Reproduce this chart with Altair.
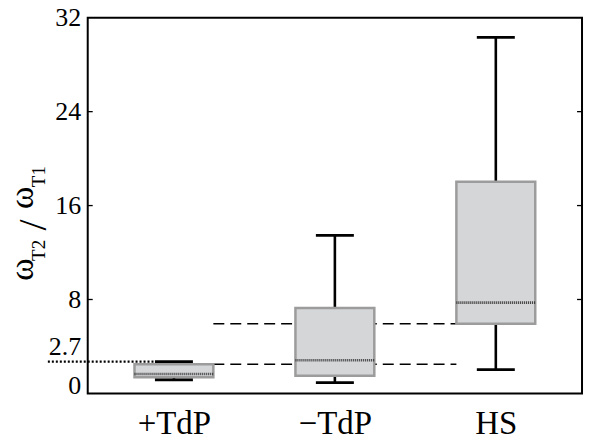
import altair as alt
import pandas as pd

# ---- data ----
categories = ["+TdP", "\u2212TdP", "HS"]
positions = [1, 2, 3]
lower = [1.15, 0.92, 2.02]
q1 = [1.37, 1.51, 5.94]
median = [1.65, 2.83, 7.73]
q3 = [2.49, 7.28, 18.03]
upper = [2.70, 13.46, 30.32]
threshold = 2.7
tick_values = [8, 16, 24]
label_values = [0, 2.7, 8, 16, 24, 32]

# ---- layout ----
W, H = 496, 377
X_DOMAIN = [0.4644, 3.5356]
BOX_HW = 0.245
CAP_HW = 0.118
FONT = "Liberation Serif"
px = (X_DOMAIN[1] - X_DOMAIN[0]) / W

xs = alt.Scale(domain=X_DOMAIN, nice=False, zero=False)
ys = alt.Scale(domain=[0, 32], nice=False, zero=False)

label_expr = " : ".join(
    f"datum.value == {p} ? '{c}'" for p, c in zip(positions[:-1], categories[:-1])
) + f" : '{categories[-1]}'"

x_axis = alt.Axis(values=positions, labelExpr=label_expr, ticks=False,
                  domain=False, grid=False, labelFont=FONT, labelFontSize=33,
                  labelColor="black", labelPadding=40, labelBaseline="alphabetic",
                  title=None)
y_axis = alt.Axis(values=label_values, format=".1~f", ticks=False, domain=False, grid=False,
                  labelFont=FONT, labelFontSize=26, labelColor="black",
                  labelPadding=7, title=None,
                  labelBaseline={"condition": {"test": "datum.value < 3", "value": "alphabetic"},
                                 "value": "middle"},
                  labelOffset={"condition": {"test": "datum.value == 2.7", "value": -7},
                               "value": 0})

df = pd.DataFrame({
    "cat": categories, "pos": positions, "lower": lower, "q1": q1,
    "median": median, "q3": q3, "upper": upper,
})
df["bl"] = df["pos"] - BOX_HW
df["br"] = df["pos"] + BOX_HW
df["cl"] = df["pos"] - CAP_HW
df["cr"] = df["pos"] + CAP_HW

base = alt.Chart(df)

def X(f):
    return alt.X(f, scale=xs, axis=x_axis)

def Y(f):
    return alt.Y(f, scale=ys, axis=y_axis)

whisker = base.mark_rule(color="black", strokeWidth=2.6).encode(
    x=X("pos:Q"), y=Y("lower:Q"), y2="upper:Q")

cap_lo = base.mark_rule(color="black", strokeWidth=2.8).encode(
    x=X("cl:Q"), x2="cr:Q", y=Y("lower:Q"))
cap_hi = base.mark_rule(color="black", strokeWidth=2.8).encode(
    x=X("cl:Q"), x2="cr:Q", y=Y("upper:Q"))

# dashed reference lines (top of +TdP box, bottom of HS box)
ref_df = pd.DataFrame({
    "y": [q3[0], q1[2]],
    "x1": [positions[0] + BOX_HW] * 2,
    "x2": [positions[2] - BOX_HW] * 2,
})
dashed = alt.Chart(ref_df).mark_rule(color="black", strokeWidth=1.5, strokeDash=[11, 6]).encode(
    x=X("x1:Q"), x2="x2:Q", y=Y("y:Q"))

box = base.mark_rect(fill="#d5d6d8", stroke="#9c9c9c", strokeWidth=2.5).encode(
    x=X("bl:Q"), x2="br:Q", y=Y("q1:Q"), y2="q3:Q")

med = base.mark_rule(color="#333333", strokeWidth=2.6, strokeDash=[1, 1]).encode(
    x=X("bl:Q"), x2="br:Q", y=Y("median:Q"))

thr_df = pd.DataFrame({"y": [threshold], "x1": [X_DOMAIN[0] - 40 * px],
                       "x2": [positions[0] - CAP_HW]})
thr = alt.Chart(thr_df).mark_rule(color="black", strokeWidth=2.2, strokeDash=[2, 2], clip=False).encode(
    x=X("x1:Q"), x2="x2:Q", y=Y("y:Q"))

tick_df = pd.DataFrame({"v": tick_values})
lt = alt.Chart(tick_df).mark_rule(color="black", strokeWidth=1.3).encode(
    x=alt.value(0), x2=alt.value(5), y=Y("v:Q"))
rt = alt.Chart(tick_df).mark_rule(color="black", strokeWidth=1.3).encode(
    x=alt.value(W - 5), x2=alt.value(W), y=Y("v:Q"))

# y-axis title: omega_T2 / omega_T1 built from pieces (rotated)
one = pd.DataFrame({"a": [0]})
def piece(txt, x, y, size, align="left"):
    return alt.Chart(one).mark_text(text=txt, angle=270, align=align, baseline="alphabetic",
                                    font=FONT, fontSize=size, color="black").encode(
        x=alt.value(x), y=alt.value(y))

title_layers = [
    piece("\u03c9", -55, 264, 34),
    piece("T2", -43, 244, 19),
    piece("/", -42, 208, 40, align="center"),
    piece("\u03c9", -55, 192, 34),
    piece("T1", -43, 170, 19),
]

chart = alt.layer(
    dashed, whisker, box, med, cap_lo, cap_hi, thr, lt, rt, *title_layers
).properties(
    width=W, height=H, autosize="none", background="white",
    padding={"left": 80, "top": 9, "right": 5, "bottom": 48},
).configure_view(stroke="black", strokeWidth=2)

chart.save("out.html", embed_options={"renderer": "svg", "actions": False})
